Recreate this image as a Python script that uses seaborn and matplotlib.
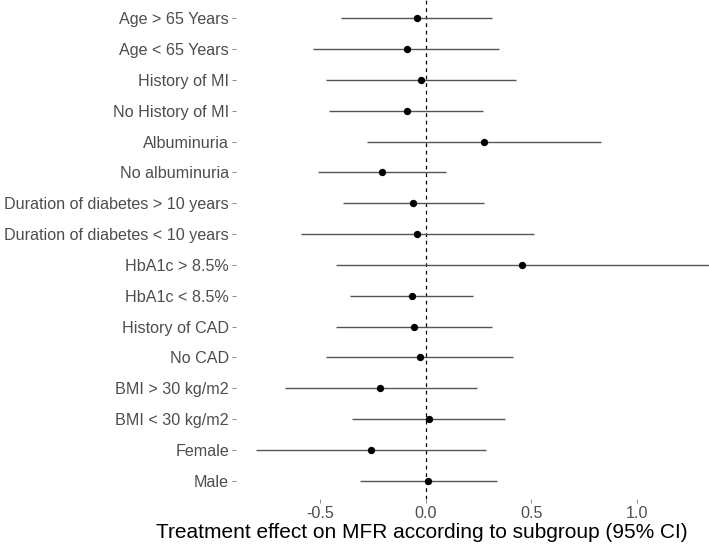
import matplotlib
matplotlib.use("Agg")
import matplotlib.pyplot as plt
import seaborn as sns
import pandas as pd

subgroups = [
    "Age > 65 Years", "Age < 65 Years", "History of MI", "No History of MI",
    "Albuminuria", "No albuminuria", "Duration of diabetes > 10 years",
    "Duration of diabetes < 10 years", "HbA1c > 8.5%", "HbA1c < 8.5%",
    "History of CAD", "No CAD", "BMI > 30 kg/m2", "BMI < 30 kg/m2",
    "Female", "Male",
]
estimate = [-0.042, -0.089, -0.023, -0.089, 0.277, -0.206, -0.058, -0.039,
            0.457, -0.064, -0.053, -0.026, -0.214, 0.017, -0.258, 0.012]
lower = [-0.400, -0.532, -0.473, -0.456, -0.276, -0.509, -0.389, -0.590,
         -0.426, -0.356, -0.423, -0.470, -0.667, -0.348, -0.803, -0.312]
upper = [0.317, 0.348, 0.429, 0.271, 0.830, 0.096, 0.276, 0.514,
         1.343, 0.225, 0.317, 0.413, 0.243, 0.378, 0.287, 0.337]
xticks = [-0.5, 0.0, 0.5, 1.0]

df = pd.DataFrame({"subgroup": subgroups, "est": estimate, "lo": lower, "hi": upper})

sns.set_theme(style="white")
plt.rcParams["font.family"] = ["Liberation Sans", "DejaVu Sans"]

fig = plt.figure(figsize=(7.09, 5.47), dpi=100)
ax = fig.add_axes([236/709, 48/547, 1 - 236/709, 1 - 48/547])

ypos = list(range(len(subgroups)))
ax.hlines(ypos, df["lo"], df["hi"], color="#555555", lw=1.0, zorder=2)
ax.axvline(0, color="black", lw=0.9, ls=(0, (3, 3)), zorder=1)
sns.scatterplot(x=df["est"], y=ypos, ax=ax, color="black", s=28,
                edgecolor="black", linewidth=0, zorder=3, legend=False)

ax.set_yticks(ypos)
ax.set_yticklabels(subgroups)
ax.set_ylim(len(subgroups) - 1 + 0.6, -0.6)
ax.set_xlim(-0.898, 1.343)
ax.set_xticks(xticks)
ax.set_xticklabels(["-0.5", "0.0", "0.5", "1.0"])
for s in ax.spines.values():
    s.set_visible(False)
ax.tick_params(axis="y", labelsize=11.6)
ax.tick_params(axis="x", labelsize=11.6)
ax.tick_params(axis="both", which="both", length=3, width=0.6, color="#777777",
               labelcolor="#4d4d4d", pad=2, left=True, bottom=True)
ax.set_xlabel("")
ax.set_ylabel("")
fig.text(422/709, 1 - 533/547, "Treatment effect on MFR according to subgroup (95% CI)",
         fontsize=15, color="black", ha="center", va="center")
ax.grid(False)

fig.savefig("out.png", dpi=100)
